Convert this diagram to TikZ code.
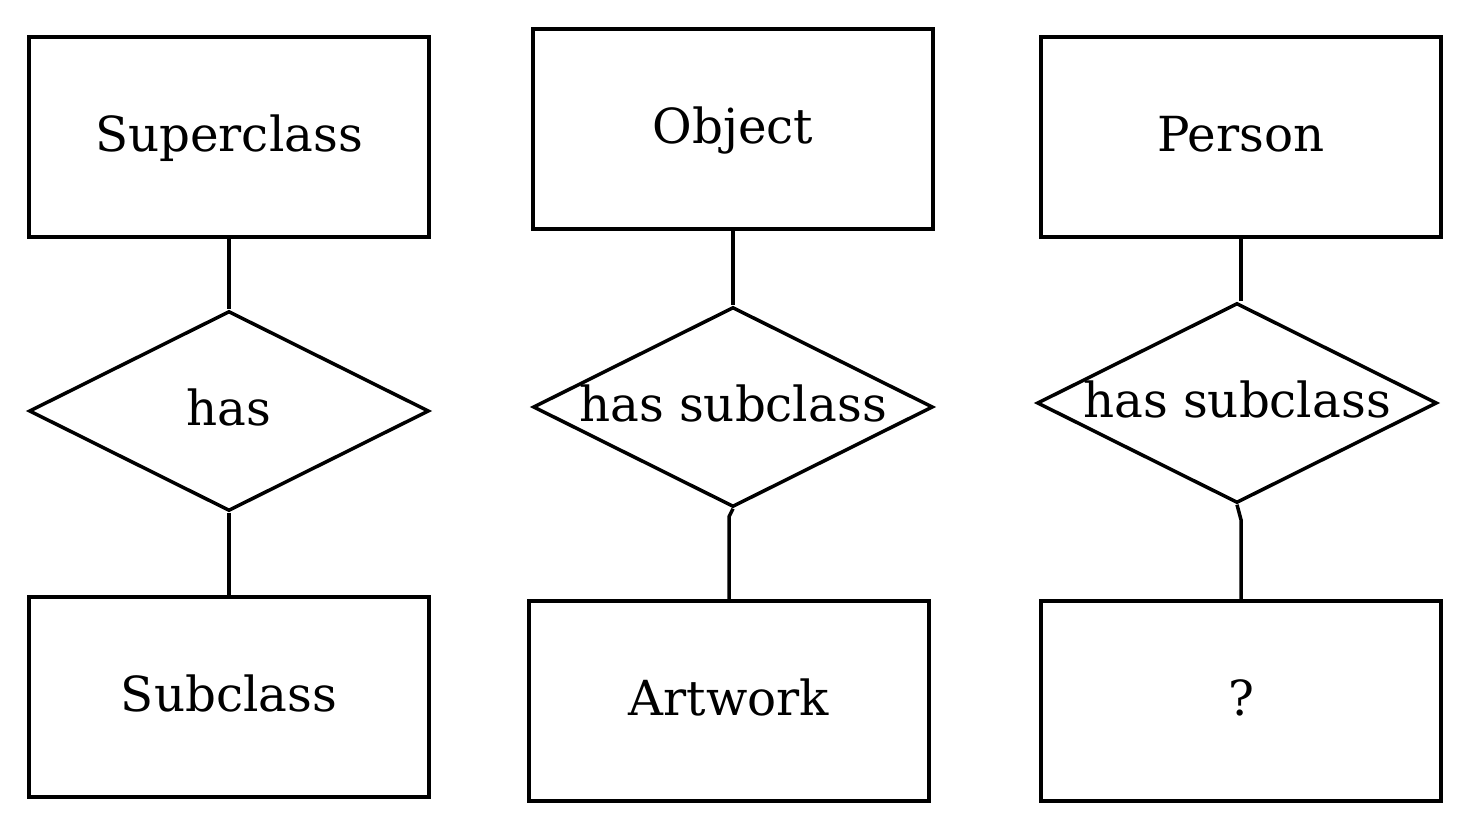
\documentclass[tikz,border=0pt]{standalone}
\usepackage{fontspec}
\setmainfont{DejaVu Serif}
\usetikzlibrary{shapes.geometric}

\tikzset{
  entity/.style={draw, rectangle, minimum width=8cm, minimum height=4cm, inner sep=0pt, text height=20pt, text depth=4pt},
  relship/.style={draw, diamond, minimum width=8cm, minimum height=4cm, inner sep=0pt},
}

\begin{document}
\begin{tikzpicture}[x=0.02cm, y=-0.02cm, line width=0.07cm, font=\fontsize{27.5}{33}\selectfont]
\useasboundingbox (0,0) rectangle (1468,828);
% left column
\node[entity] (super) at (229,137) {Superclass};
\node[relship, label={[yshift=2pt]center:has}] (has) at (229,411) {};
\node[entity] (sub) at (229,697) {Subclass};
\draw (super.south) -- (has.north);
\draw (has.south) -- (sub.north);
% middle column
\node[entity] (object) at (733,129) {Object};
\node[relship, label={[yshift=2pt]center:has subclass}] (hasobj) at (733,407) {};
\node[entity] (artwork) at (729,701) {Artwork};
\draw (object.south) -- (hasobj.north);
\draw (hasobj.south) -- ++(-4,8) -- (artwork.north);
% right column
\node[entity] (person) at (1241,137) {Person};
\node[relship, label={[yshift=2pt]center:has subclass}] (hasper) at (1237,403) {};
\node[entity] (unknown) at (1241,701) {?};
\draw (person.south) -- (person.south |- hasper.north);
\draw (hasper.south) -- ++(4,15) -- (unknown.north);
\end{tikzpicture}
\end{document}
